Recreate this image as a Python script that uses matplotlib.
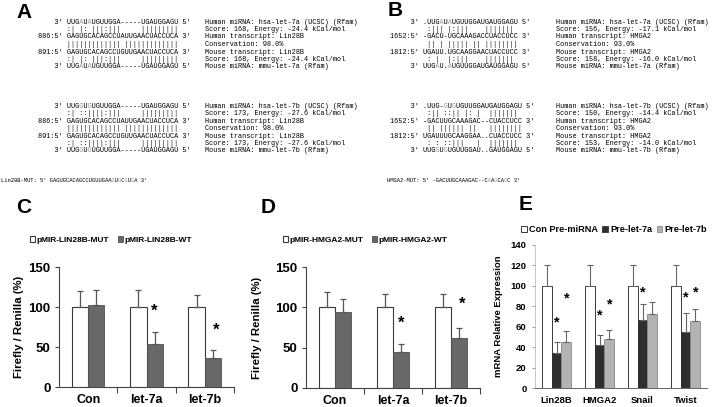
import matplotlib
matplotlib.use("Agg")
import matplotlib.pyplot as plt
import numpy as np

W, H = 713, 407

# ---------------- data ----------------
c_groups = ["Con", "let-7a", "let-7b"]
c_mut = [100, 100, 100]
c_mut_err = [20, 21, 15]
c_wt = [103, 54, 36]
c_wt_err = [18, 15, 10]
c_star = [None, 95, 71]

d_groups = ["Con", "let-7a", "let-7b"]
d_mut = [100, 100, 100]
d_mut_err = [19, 16, 17]
d_wt = [94, 45, 62]
d_wt_err = [16, 10, 12]
d_star = [None, 80, 104]

e_genes = ["Lin28B", "HMGA2", "Snail", "Twist"]
e_con = [100, 100, 100, 100]
e_con_err = [20, 20, 20, 20]
e_7a = [34, 42, 67, 55]
e_7a_err = [11, 10, 15, 18]
e_7b = [45, 48, 72, 66]
e_7b_err = [11, 9, 12, 11]
e_star_7a = [64, 71, 94, 89]
e_star_7b = [88, 82, None, 94]

# alignment blocks: (prefix, sequence, suffix, annotation, grey positions)
lin28b_7a = [
    ("3'", "UUGAUAUGUUGGA-----UGAUGGAGU", "5'", "Human miRNA: hsa-let-7a (UCSC) (Rfam)", [3, 5]),
    ("", ":| |: |||:|||     |||||||||", "", "Score: 168, Energy: -24.4 kCal/mol", []),
    ("886:5'", "GAGUGCACAGCCUAUUGAACUACCUCA", "3'", "Human transcript: Lin28B", []),
    ("", "||||||||||||| |||||||||||||", "", "Conservation: 98.0%", []),
    ("891:5'", "GAGUGCACAGCCUGUUGAACUACCUCA", "3'", "Mouse transcript: Lin28B", []),
    ("", ":| |: |||:|||     |||||||||", "", "Score: 168, Energy: -24.4 kCal/mol", []),
    ("3'", "UUGAUAUGUUGGA-----UGAUGGAGU", "5'", "Mouse miRNA: mmu-let-7a (Rfam)", [3, 5]),
]
lin28b_7b = [
    ("3'", "UUGGUGUGUUGGA-----UGAUGGAGU", "5'", "Human miRNA: hsa-let-7b (UCSC) (Rfam)", [3, 5]),
    ("", ":| ::||||:|||     |||||||||", "", "Score: 173, Energy: -27.6 kCal/mol", []),
    ("886:5'", "GAGUGCACAGCCUAUUGAACUACCUCA", "3'", "Human transcript: Lin28B", []),
    ("", "||||||||||||| |||||||||||||", "", "Conservation: 98.0%", []),
    ("891:5'", "GAGUGCACAGCCUGUUGAACUACCUCA", "3'", "Mouse transcript: Lin28B", []),
    ("", ":| ::||||:|||     |||||||||", "", "Score: 173, Energy: -27.6 kCal/mol", []),
    ("3'", "UUGGUGUGUUGGA-----UGAUGGAGU", "5'", "Mouse miRNA: mmu-let-7b (Rfam)", [3, 5]),
]
hmga2_7a = [
    ("3'", ".UUGAUAUGUUGGAUGAUGGAGU", "5'", "Human miRNA: hsa-let-7a (UCSC) (Rfam)", [4, 6]),
    ("", " :||| |:|||    ||||||| ", "", "Score: 156, Energy: -17.1 kCal/mol", []),
    ("1652:5'", "-GACU-UGCAAAGACCUACCUCC", "3'", "Human transcript: HMGA2", []),
    ("", " || | ||||| || ||||||||", "", "Conservation: 93.0%", []),
    ("1812:5'", "UGAUU.UGCAAGGAACUACCUCC", "3'", "Mouse transcript: HMGA2", []),
    ("", " : |  |:|||    ||||||| ", "", "Score: 158, Energy: -16.0 kCal/mol", []),
    ("3'", "UUGAU.AUGUUGGAUGAUGGAGU", "5'", "Mouse miRNA: mmu-let-7a (Rfam)", [3, 6]),
]
hmga2_7b = [
    ("3'", ".UUG-GUGUGUUGGAUGAUGGAGU", "5'", "Human miRNA: hsa-let-7b (UCSC) (Rfam)", [5, 7]),
    ("", " :|| ::|| |: |  ||||||| ", "", "Score: 150, Energy: -14.4 kCal/mol", []),
    ("1652:5'", "-GACUUGCAAAGAC--CUACCUCC", "3'", "Human transcript: HMGA2", []),
    ("", " || |||||| ||   ||||||||", "", "Conservation: 93.0%", []),
    ("1812:5'", "UGAUUUGCAAGGAA..CUACCUCC", "3'", "Mouse transcript: HMGA2", []),
    ("", " : : ::|||   |  ||||||| ", "", "Score: 153, Energy: -14.0 kCal/mol", []),
    ("3'", "UUGGUGUGUUGGAU..GAUGGAGU", "5'", "Mouse miRNA: mmu-let-7b (Rfam)", [3, 5]),
]
lin28b_mut = ("Lin28B-MUT: 5'", "GAGUGCACAGCCUGUUGAAGUGCGUGA", "3'", [19, 21, 23, 25])
hmga2_mut = ("HMGA2-MUT: 5'", "-GACUUGCAAAGAC--CAAGCAGC", "3'", [17, 19, 22])

plt.rcParams["font.family"] = "Liberation Sans"
fig = plt.figure(figsize=(W / 100, H / 100), dpi=100)
MONO = "Liberation Mono"
GREY_NT = "#9a9a9a"


def fx(x):
    return x / W


def fy(y):
    return 1 - y / H


def mono_line(x0, y, s, grey, fs):
    black = "".join(" " if i in grey else ch for i, ch in enumerate(s))
    grey_s = "".join(ch if i in grey else " " for i, ch in enumerate(s))
    fig.text(fx(x0), fy(y), black, family=MONO, fontsize=fs, va="center", ha="left", color="black")
    if grey:
        fig.text(fx(x0), fy(y), grey_s, family=MONO, fontsize=fs, va="center", ha="left", color=GREY_NT)


def draw_block(lines, seq_x, ann_x, y0, step, pw, fs=4.98):
    cw = 0.6 * fs * 100 / 72
    for k, (pre, seq, suf, ann, grey) in enumerate(lines):
        y = y0 + k * step
        full = pre.rjust(pw) + " " + seq + " " + suf
        shift = pw + 1
        mono_line(seq_x - shift * cw, y, full, [g + shift for g in grey], fs)
        fig.text(fx(ann_x), fy(y), ann, family=MONO, fontsize=fs, va="center", ha="left")


def draw_mut(mut, x0, y, fs=3.96):
    label, seq, suf, grey = mut
    full = label + " " + seq + " " + suf
    shift = len(label) + 1
    mono_line(x0, y, full, [g + shift for g in grey], fs)


STEP = 7.5
Y1 = 22
Y2 = 106
draw_block(lin28b_7a, 67, 205, Y1, STEP, 6)
draw_block(lin28b_7b, 67, 205, Y2, STEP, 6)
draw_block(hmga2_7a, 423, 556, Y1, STEP, 7)
draw_block(hmga2_7b, 423, 556, Y2, STEP, 7)
draw_mut(lin28b_mut, 1, 180)
draw_mut(hmga2_mut, 387, 180)

for lab, x, y in [("A", 24, 12), ("B", 395, 11), ("C", 24, 207), ("D", 268, 207), ("E", 526, 205)]:
    fig.text(fx(x), fy(y), lab, fontsize=15, fontweight="bold", ha="center", va="center")


def px_axes(l, t, r, b):
    return fig.add_axes([l / W, 1 - b / H, (r - l) / W, (b - t) / H])


EK = dict(ecolor="#555555", elinewidth=0.9, capsize=2.5, capthick=0.9)


def luc_panel(box, groups, mut, mut_err, wt, wt_err, star, labels, leg_xy, ylab_x):
    ax = px_axes(*box)
    x = np.arange(len(groups))
    bw = 0.28
    z = np.zeros(len(groups))
    ax.bar(x - bw / 2, mut, bw, color="white", edgecolor="#3a3a3a", linewidth=0.8,
           yerr=[z, mut_err], error_kw=EK, label=labels[0])
    ax.bar(x + bw / 2, wt, bw, color="#686868", edgecolor="#505050", linewidth=0.6,
           yerr=[z, wt_err], error_kw=EK, label=labels[1])
    for i, s in enumerate(star):
        if s is not None:
            ax.text(x[i] + bw / 2 + (0.06 if i == 2 else 0), s, "*", ha="center", va="center",
                    fontsize=12, fontweight="bold")
    ax.set_xlim(-0.5, len(groups) - 0.5)
    ax.set_ylim(0, 150)
    ax.set_yticks([0, 50, 100, 150])
    ax.set_xticks(x)
    ax.set_xticklabels(groups)
    ax.set_xticks(np.arange(len(groups)) + 0.5, minor=True)
    ax.tick_params(axis="x", which="major", length=0, pad=5, labelsize=9)
    ax.tick_params(axis="x", which="minor", length=4, width=0.8, color="#444444")
    ax.tick_params(axis="y", length=3, width=0.8, color="#444444", pad=3, labelsize=9.5)
    for t in ax.get_xticklabels() + ax.get_yticklabels():
        t.set_fontweight("bold")
    for sp in ["top", "right"]:
        ax.spines[sp].set_visible(False)
    for sp in ["left", "bottom"]:
        ax.spines[sp].set_color("#444444")
        ax.spines[sp].set_linewidth(0.8)
    ax.set_ylabel("Firefly / Renilla (%)", fontsize=8.2, fontweight="bold")
    ax.yaxis.set_label_coords(ylab_x, 0.5)
    ax.legend(loc="center left", bbox_to_anchor=(fx(leg_xy[0]), fy(leg_xy[1])),
              bbox_transform=fig.transFigure, ncol=2, frameon=False,
              prop=dict(size=6, weight="bold"), handlelength=0.6, handleheight=0.6,
              handletextpad=0.15, columnspacing=1.1, borderpad=0, borderaxespad=0)
    return ax


luc_panel((59, 267, 234, 387), c_groups, c_mut, c_mut_err, c_wt, c_wt_err, c_star,
          ["pMIR-LIN28B-MUT", "pMIR-LIN28B-WT"], (30, 240), -0.2)
luc_panel((306, 267, 480, 388), d_groups, d_mut, d_mut_err, d_wt, d_wt_err, d_star,
          ["pMIR-HMGA2-MUT", "pMIR-HMGA2-WT"], (283, 240), -0.25)

# panel E
ax = px_axes(535, 245, 707, 388)
x = np.arange(len(e_genes))
bw = 0.23
z = np.zeros(len(e_genes))
EK2 = dict(ecolor="#666666", elinewidth=0.8, capsize=2, capthick=0.8)
ax.bar(x - bw, e_con, bw, color="white", edgecolor="#3a3a3a", linewidth=0.7,
       yerr=[z, e_con_err], error_kw=EK2, label="Con Pre-miRNA")
ax.bar(x, e_7a, bw, color="#2e2e2e", edgecolor="#2e2e2e", linewidth=0.6,
       yerr=[z, e_7a_err], error_kw=EK2, label="Pre-let-7a")
ax.bar(x + bw, e_7b, bw, color="#b3b3b3", edgecolor="#8a8a8a", linewidth=0.6,
       yerr=[z, e_7b_err], error_kw=EK2, label="Pre-let-7b")
for i in range(len(e_genes)):
    if e_star_7a[i] is not None:
        ax.text(x[i], e_star_7a[i], "*", ha="center", va="center", fontsize=10.5, fontweight="bold")
    if e_star_7b[i] is not None:
        ax.text(x[i] + bw, e_star_7b[i], "*", ha="center", va="center", fontsize=10.5, fontweight="bold")
ax.set_xlim(-0.5, len(e_genes) - 0.5)
ax.set_ylim(0, 140)
ax.set_yticks(np.arange(0, 141, 20))
ax.set_xticks(x)
ax.set_xticklabels(e_genes)
ax.tick_params(axis="x", length=0, pad=6, labelsize=6.8)
ax.tick_params(axis="y", length=2, width=0.6, color="#888888", pad=4, labelsize=6.8)
for t in ax.get_xticklabels() + ax.get_yticklabels():
    t.set_fontweight("bold")
for sp in ["top", "right"]:
    ax.spines[sp].set_visible(False)
ax.spines["left"].set_color("#bbbbbb")
ax.spines["left"].set_linewidth(0.6)
ax.spines["bottom"].set_color("#666666")
ax.spines["bottom"].set_linewidth(0.7)
ax.set_ylabel("mRNA Relative Expression", fontsize=6.8, fontweight="bold")
ax.yaxis.set_label_coords(-0.186, 0.5)
ax.legend(loc="center left", bbox_to_anchor=(fx(521), fy(230)), bbox_transform=fig.transFigure,
          ncol=3, frameon=False, prop=dict(size=6.6, weight="bold"), handlelength=0.6,
          handleheight=0.6, handletextpad=0.25, columnspacing=0.5, borderpad=0, borderaxespad=0)

fig.savefig("out.png", dpi=100)
